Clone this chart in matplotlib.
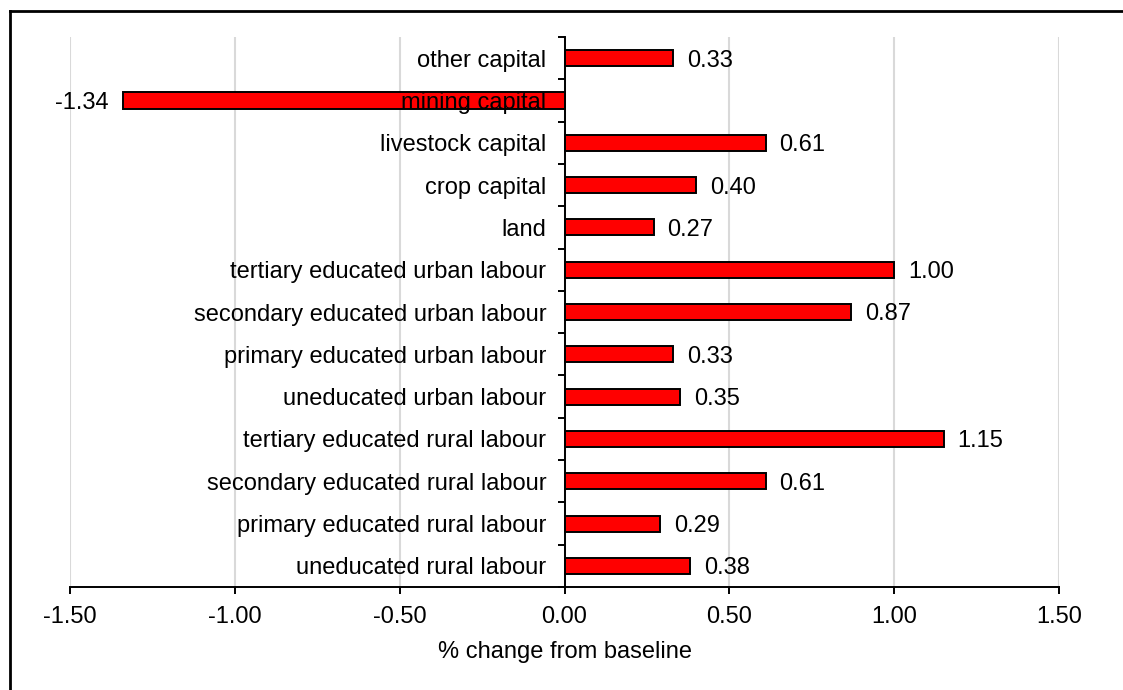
import matplotlib.pyplot as plt
import numpy as np
from matplotlib.lines import Line2D

plt.rcParams['font.family'] = ['Liberation Sans', 'DejaVu Sans']

# categories listed bottom to top
categories = [
    'uneducated rural labour',
    'primary educated rural labour',
    'secondary educated rural labour',
    'tertiary educated rural labour',
    'uneducated urban labour',
    'primary educated urban labour',
    'secondary educated urban labour',
    'tertiary educated urban labour',
    'land',
    'crop capital',
    'livestock capital',
    'mining capital',
    'other capital',
]
values = [0.38, 0.29, 0.61, 1.15, 0.35, 0.33, 0.87, 1.00, 0.27, 0.40, 0.61, -1.34, 0.33]
x_ticks = [-1.5, -1.0, -0.5, 0.0, 0.5, 1.0, 1.5]

FS = 17
W, H = 1123, 690
fig = plt.figure(figsize=(W / 100, H / 100), dpi=100)
ax = fig.add_axes([70 / W, 1 - 587 / H, (1059 - 70) / W, (587 - 37) / H])

y = np.arange(len(categories))
ax.barh(y, values, height=0.38, color='#ff0000', edgecolor='black', linewidth=1.4, zorder=2)

# vertical gridlines drawn under the bars
for xt in x_ticks:
    ax.axvline(xt, color='#d9d9d9', linewidth=1.5, zorder=0)

ax.set_axisbelow(False)
ax.set_xlim(-1.5, 1.5)
ax.set_ylim(-0.5, len(categories) - 0.5)

ax.spines['top'].set_visible(False)
ax.spines['right'].set_visible(False)
ax.spines['left'].set_position(('data', 0))
ax.spines['left'].set_linewidth(1.4)
ax.spines['bottom'].set_linewidth(1.4)

ax.set_yticks(y)
ax.set_yticklabels(categories, fontsize=FS)
ax.set_yticks(np.arange(-0.5, len(categories), 1.0), minor=True)
ax.tick_params(axis='y', which='major', length=0, pad=13)
ax.tick_params(axis='y', which='minor', length=5, width=1.4, direction='out')

ax.set_xticks(x_ticks)
ax.set_xticklabels(['%.2f' % t for t in x_ticks], fontsize=FS)
ax.tick_params(axis='x', which='major', length=5, width=1.4, direction='out', pad=9)
ax.set_xlabel('% change from baseline', fontsize=FS, labelpad=9)

for yi, v in zip(y, values):
    if v >= 0:
        ax.annotate('%.2f' % v, (v, yi), xytext=(14, 0), textcoords='offset pixels',
                    ha='left', va='center_baseline', fontsize=FS)
    else:
        ax.annotate('%.2f' % v, (v, yi), xytext=(-14, 0), textcoords='offset pixels',
                    ha='right', va='center_baseline', fontsize=FS)

# partial frame around the chart area (top and left edges)
fig.add_artist(Line2D([9.5 / W, 9.5 / W], [0, 1 - 11 / H], color='black', linewidth=2))
fig.add_artist(Line2D([9.5 / W, 1], [1 - 11 / H, 1 - 11 / H], color='black', linewidth=2))

fig.savefig('out.png', dpi=100)
